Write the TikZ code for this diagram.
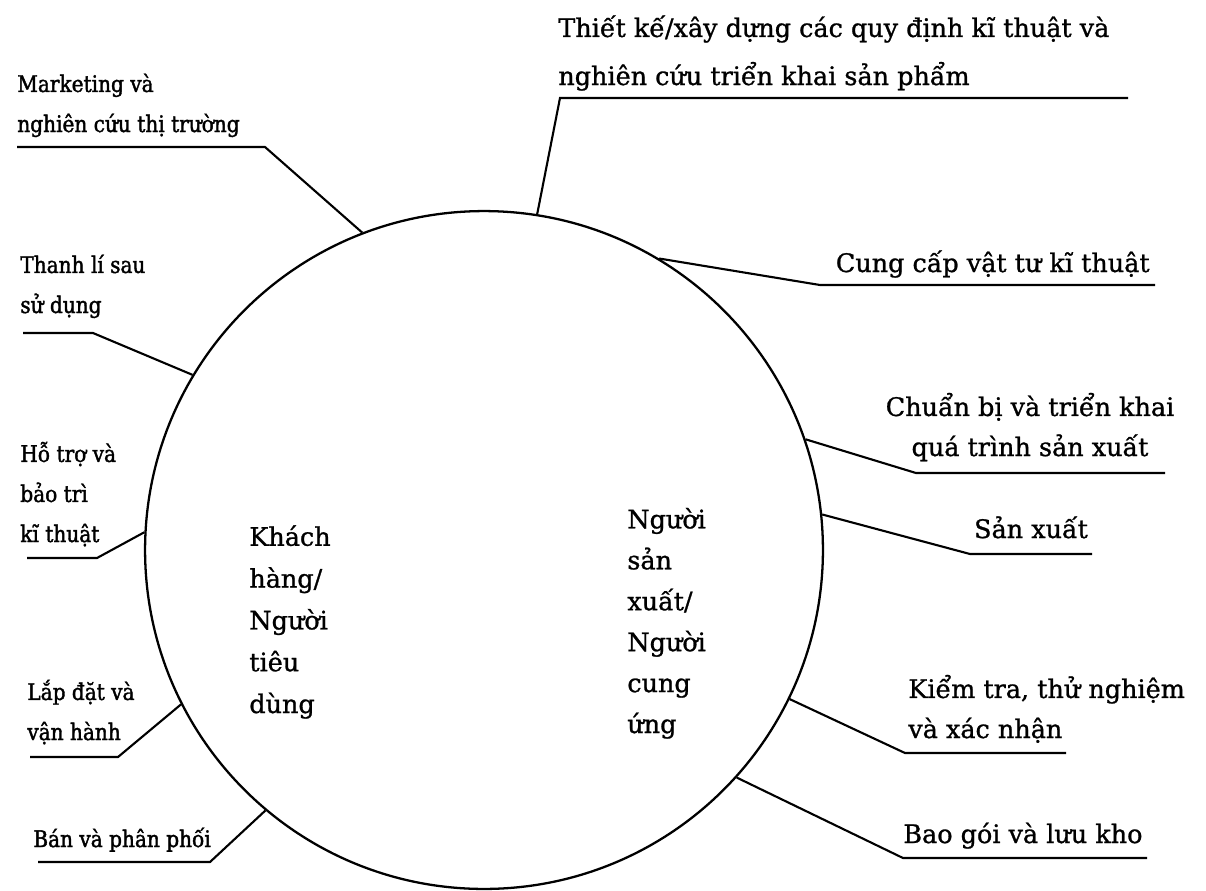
\documentclass[tikz,border=0pt]{standalone}
\usepackage{fontspec}
\setmainfont{DejaVu Serif}[FakeBold=1.0]
\newfontfamily\leftlbl{DejaVu Serif}[FakeBold=1.6, FakeStretch=0.88]
\begin{document}
\begin{tikzpicture}[x=0.02cm,y=-0.02cm,
  lbl/.style={inner sep=0pt, anchor=base west, align=left, font=\fontsize{14.5}{22.8}\selectfont},
  sml/.style={inner sep=0pt, anchor=base west, align=left, font=\leftlbl\fontsize{13}{22.8}\selectfont},
  ctrL/.style={inner sep=0pt, anchor=base west, align=left, font=\fontsize{14.5}{23.8}\selectfont},
  ctrR/.style={inner sep=0pt, anchor=base west, align=left, font=\fontsize{14.5}{23.3}\selectfont},
  ring/.style={draw, circle, line width=1.3pt, minimum size=13.56cm, inner sep=0pt},
  conn/.style={line width=1.2pt, line join=miter}]
\useasboundingbox (0,0) rectangle (1206,890);
\node[ring] (C) at (484,550) {};

% labels (base anchor = baseline of the last line)
\node[sml] (mk) at (17,132) {Marketing và\\nghiên cứu thị trường};
\node[lbl] (tk) at (558,85) {Thiết kế/xây dựng các quy định kĩ thuật và\\[0.16cm]nghiên cứu triển khai sản phẩm};
\node[lbl, anchor=base east] (cc) at (1150,272) {Cung cấp vật tư kĩ thuật};
\node[lbl, anchor=base, align=center] (cb) at (1030,456) {Chuẩn bị và triển khai\\quá trình sản xuất};
\node[lbl, anchor=base] (sx) at (1031,538) {Sản xuất};
\node[lbl] (kt) at (908,738) {Kiểm tra, thử nghiệm\\và xác nhận};
\node[lbl] (bg) at (903,843) {Bao gói và lưu kho};
\node[sml] (tl) at (20,313) {Thanh lí sau\\sử dụng};
\node[sml] (ht) at (20,542) {Hỗ trợ và\\bảo trì\\kĩ thuật};
\node[sml] (ld) at (27,740) {Lắp đặt và\\vận hành};
\node[sml] (bp) at (33,847) {Bán và phân phối};
\node[ctrL] (kh) at (249,713) {Khách\\hàng/\\Người\\tiêu\\dùng};
\node[ctrR] (ns) at (627,733) {Người\\sản\\xuất/\\Người\\cung\\ứng};

% underline coordinates
\coordinate (mkA) at (17,147);  \coordinate (mkB) at (265,147);
\coordinate (tkA) at (560,98);  \coordinate (tkB) at (1128,98);
\coordinate (ccA) at (820,285); \coordinate (ccB) at (1155,285);
\coordinate (cbA) at (916,473); \coordinate (cbB) at (1165,473);
\coordinate (sxA) at (970,554); \coordinate (sxB) at (1092,554);
\coordinate (ktA) at (905,753); \coordinate (ktB) at (1066,753);
\coordinate (bgA) at (903,858); \coordinate (bgB) at (1147,858);
\coordinate (tlA) at (93,333);  \coordinate (tlB) at (23,333);
\coordinate (htA) at (97,558);  \coordinate (htB) at (27,558);
\coordinate (ldA) at (118,757); \coordinate (ldB) at (30,757);
\coordinate (bpA) at (210,862); \coordinate (bpB) at (38,862);

% connectors
\draw[conn] (C.111.9) -- (mkB) -- (mkA);
\draw[conn] (C.81) -- (tkA) -- (tkB);
\draw[conn] (C.59.7) -- (ccA) -- (ccB);
\draw[conn] (C.19.2) -- (cbA) -- (cbB);
\draw[conn] (C.6.2) -- (sxA) -- (sxB);
\draw[conn] (C.-26) -- (ktA) -- (ktB);
\draw[conn] (C.-42) -- (bgA) -- (bgB);
\draw[conn] (C.149.7) -- (tlA) -- (tlB);
\draw[conn] (C.177.3) -- (htA) -- (htB);
\draw[conn] (C.207.5) -- (ldA) -- (ldB);
\draw[conn] (C.230.2) -- (bpA) -- (bpB);
\end{tikzpicture}
\end{document}
